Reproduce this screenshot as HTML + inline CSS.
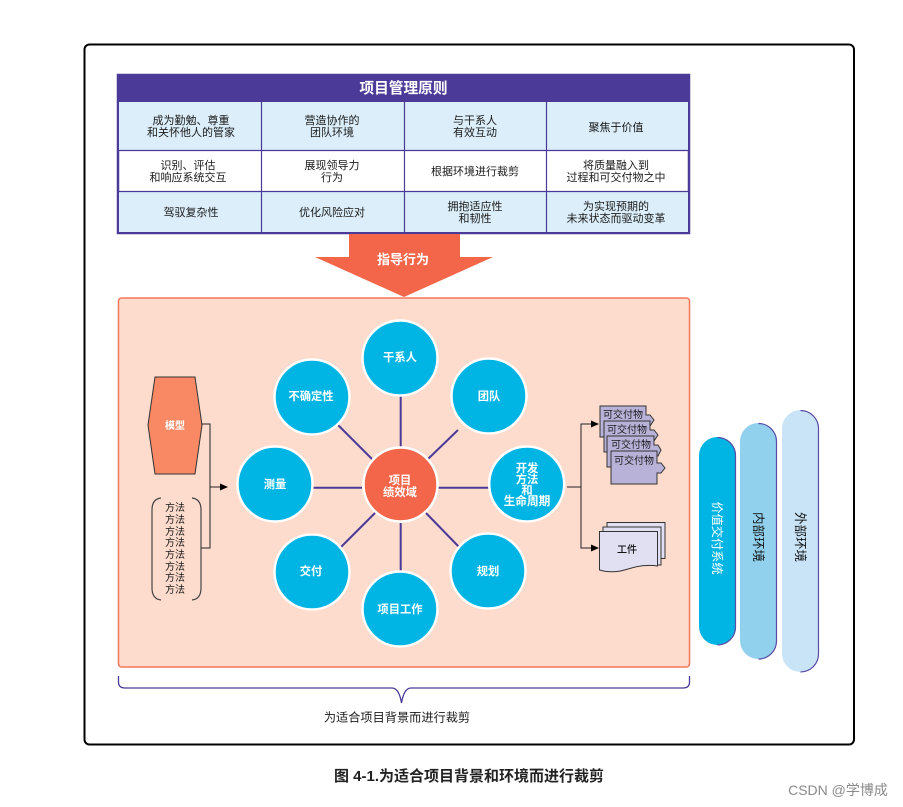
<!DOCTYPE html>
<html><head><meta charset="utf-8"><style>
html,body{margin:0;padding:0;background:#fff}
svg{display:block}
text{font-family:"Liberation Sans","Noto Sans CJK SC",sans-serif;text-anchor:middle}
.t{font-size:11px;fill:#1a1a1a}
.w{font-size:11.300px;fill:#fff;font-weight:700}
.m{font-size:10px;fill:#1a1a1a}
.d{font-size:10px;fill:#1a1a1a}
</style></head><body>
<svg width="903" height="807" viewBox="0 0 903 807" xmlns="http://www.w3.org/2000/svg">
<rect x="84.500" y="44.500" width="769.500" height="700" rx="5" fill="#fff" stroke="#000" stroke-width="2"/>
<rect x="118" y="75" width="571" height="158" fill="#fff" stroke="#4b3a98" stroke-width="2.500"/>
<rect x="118" y="75" width="571" height="27" fill="#4b3a98"/>
<rect x="119" y="102" width="569" height="48" fill="#dbeef9"/>
<rect x="119" y="192" width="569" height="40" fill="#dbeef9"/>
<g stroke="#4b3a98" stroke-width="1.200" fill="none">
<path d="M118 150.500H689M118 191.500H689M261.500 101V233M404.500 101V233M546.500 101V233"/>
</g>
<text x="403.500" y="93" style="font-size:14.700px;font-weight:700;fill:#fff">项目管理原则</text>
<text class="t" x="191" y="124">成为勤勉、尊重</text><text class="t" x="191" y="136">和关怀他人的管家</text>
<text class="t" x="332" y="124">营造协作的</text><text class="t" x="332" y="136">团队环境</text>
<text class="t" x="475" y="124">与干系人</text><text class="t" x="475" y="136">有效互动</text>
<text class="t" x="616" y="131">聚焦于价值</text>
<text class="t" x="188" y="169">识别、评估</text><text class="t" x="188" y="181">和响应系统交互</text>
<text class="t" x="332" y="169">展现领导力</text><text class="t" x="332" y="181">行为</text>
<text class="t" x="475" y="175">根据环境进行裁剪</text>
<text class="t" x="616" y="169">将质量融入到</text><text class="t" x="616" y="181">过程和可交付物之中</text>
<text class="t" x="191" y="216">驾驭复杂性</text>
<text class="t" x="332" y="216">优化风险应对</text>
<text class="t" x="475" y="210">拥抱适应性</text><text class="t" x="475" y="222">和韧性</text>
<text class="t" x="616" y="210">为实现预期的</text><text class="t" x="616" y="222">未来状态而驱动变革</text>
<polygon points="349,234 460,234 460,257 493,257 404,297 315,257 349,257" fill="#f4664a"/>
<text x="403" y="264" style="font-size:13px;font-weight:700;fill:#fff">指导行为</text>
<rect x="118.500" y="298" width="571" height="369" rx="3" fill="#fddccd" stroke="#f4775a" stroke-width="1.500"/>
<g stroke="#4b3a98" stroke-width="2" fill="none">
<path d="M400.700 396V447M400.700 523V574M313 487.700H362M438 487.700H489M338 425L372 459M458 430L428 459M341 547L375 513M460 548L426 513"/>
</g>
<g fill="#00b4e4" stroke="#fff" stroke-width="2.500">
<circle cx="400" cy="358" r="37.500"/><circle cx="489" cy="396" r="37.500"/><circle cx="526.700" cy="484" r="37.500"/>
<circle cx="488" cy="571" r="37.500"/><circle cx="400" cy="609" r="37.500"/><circle cx="312" cy="572" r="37.500"/>
<circle cx="275" cy="484" r="37.500"/><circle cx="312" cy="397" r="37.500"/>
</g>
<circle cx="400.500" cy="484.500" r="37" fill="#f4664a" stroke="#fff" stroke-width="2.500"/>
<text class="w" x="400" y="361">干系人</text>
<text class="w" x="489" y="400">团队</text>
<text class="w" x="527" y="472">开发</text><text class="w" x="527" y="483">方法</text><text class="w" x="527" y="494">和</text><text class="w" x="527" y="505" style="font-size:11.700px">生命周期</text>
<text class="w" x="488" y="575">规划</text>
<text class="w" x="400" y="613">项目工作</text>
<text class="w" x="311" y="575">交付</text>
<text class="w" x="275" y="488">测量</text>
<text class="w" x="311" y="400">不确定性</text>
<text class="w" x="400" y="484">项目</text><text class="w" x="400" y="496">绩效域</text>
<polygon points="155,377 195,377 202,425 195,474 155,474 148,425" fill="#f98864" stroke="#333" stroke-width="1"/>
<text x="175" y="429" style="font-size:10px;font-weight:700;fill:#fff">模型</text>
<g stroke="#222" stroke-width="1" fill="none">
<path d="M202 424H210V548H201M210 487H221"/>
<path d="M161 498Q152 499 152 510V588Q152 599 161 600M192 498Q201 499 201 510V588Q201 599 192 600" stroke="#444" stroke-width="1.200"/>
</g>
<polygon points="220,483.500 228,487 220,490.500" fill="#000"/>
<text class="m" x="175" y="511">方法</text><text class="m" x="175" y="523">方法</text><text class="m" x="175" y="535">方法</text><text class="m" x="175" y="546">方法</text><text class="m" x="175" y="558">方法</text><text class="m" x="175" y="570">方法</text><text class="m" x="175" y="581">方法</text><text class="m" x="175" y="593">方法</text>
<g stroke="#222" stroke-width="1" fill="none"><path d="M567 487H581M598 424H581V548H598"/></g>
<polygon points="591,420.500 599,424 591,427.500" fill="#000"/>
<polygon points="591,544.500 599,548 591,551.500" fill="#000"/>
<g fill="#b8b2d8" stroke="#333" stroke-width="1">
<polygon points="600,406 646,406 646,415 650,415 654,420 650,426 646,426 646,437 600,437"/>
<polygon points="604,421 650,421 650,430 654,430 658,435 654,441 650,441 650,452 604,452"/>
<polygon points="607,436 654,436 654,445 658,445 661,450 658,456 654,456 654,467 607,467"/>
<polygon points="611,451 657,451 657,463 661,463 665,468 661,473 657,473 657,484 611,484"/>
</g>
<text class="d" x="623" y="418">可交付物</text><text class="d" x="627" y="433">可交付物</text><text class="d" x="631" y="448">可交付物</text><text class="d" x="634" y="464">可交付物</text>
<g fill="#e0e0f2" stroke="#333" stroke-width="1">
<rect x="607" y="522.500" width="58" height="36"/>
<rect x="603" y="527" width="58" height="38"/>
<path d="M599.500 531.500H657.500V566Q643 564 628 569T599.500 570Z"/>
</g>
<text x="627" y="553" style="font-size:10px;font-weight:500;fill:#111">工件</text>
<rect x="782" y="410" width="37" height="262" rx="18.500" fill="#c8e4f6"/>
<path d="M800.500 410.500A18 18 0 0 1 818.500 428.500V654A18 18 0 0 1 800.500 672" fill="none" stroke="#5a4ca5" stroke-width="1.200"/>
<rect x="740" y="423" width="37" height="236" rx="18.500" fill="#91d1ee"/>
<path d="M758.500 423.500A18 18 0 0 1 776.500 441.500V641A18 18 0 0 1 758.500 659" fill="none" stroke="#5a4ca5" stroke-width="1.200"/>
<rect x="699" y="437" width="37" height="208" rx="18.500" fill="#00b4e4"/>
<path d="M717.500 437.500A18 18 0 0 1 735.500 455.500V627A18 18 0 0 1 717.500 645" fill="none" stroke="#5a4ca5" stroke-width="1.200"/>
<text transform="translate(713,538) rotate(90)" style="font-size:12.200px;fill:#fff">价值交付系统</text>
<text transform="translate(754,537) rotate(90)" style="font-size:12.500px;fill:#111">内部环境</text>
<text transform="translate(796,537) rotate(90)" style="font-size:12.500px;fill:#111">外部环境</text>
<path d="M118.500 676V682Q118.500 688 125 688H392Q399 688 401.500 703Q404 688 411 688H683Q689.500 688 689.500 682V676" fill="none" stroke="#4b3a98" stroke-width="1.300"/>
<text x="397" y="721.500" style="font-size:12.200px;fill:#1a1a1a">为适合项目背景而进行裁剪</text>
<text x="469" y="781" style="font-size:15px;font-weight:700;fill:#222">图 4-1.为适合项目背景和环境而进行裁剪</text>
<text x="838" y="795" style="font-size:14px;fill:#8a8a8a">CSDN @学博成</text>
</svg>
</body></html>
